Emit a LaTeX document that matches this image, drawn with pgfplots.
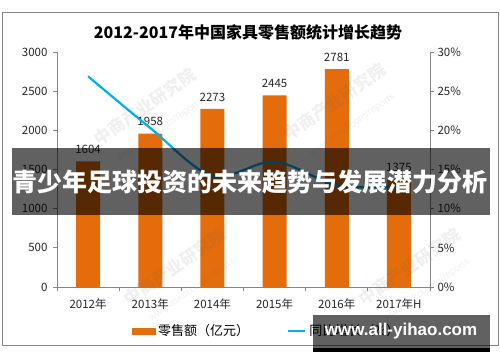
\documentclass[border=0pt]{standalone}
\usepackage{pgfplots}
\pgfplotsset{compat=1.18}
\usepackage{fontspec}
\setmainfont{Noto Sans CJK SC}
\newfontfamily\webfont{Liberation Sans}
\definecolor{barorange}{HTML}{E46C0A}
\definecolor{lineblue}{HTML}{00B0F0}
\definecolor{axgray}{HTML}{868686}
\begin{document}
\begin{tikzpicture}
\path[use as bounding box] (0pt,0pt) rectangle (500pt,362pt);
\draw[axgray, line width=1pt] (2pt,17pt) rectangle (498pt,349pt);
\node[font=\fontsize{16}{18}\selectfont\bfseries] at (248pt,330pt) {2012-2017年中国家具零售额统计增长趋势};
\begin{axis}[
  at={(57pt,75pt)}, anchor=south west, scale only axis,
  width=373pt, height=235pt,
  xmin=-0.5, xmax=5.5, ymin=0, ymax=3000,
  axis x line*=bottom, axis y line*=left,
  axis line style={axgray, line width=0.8pt},
  xtick={0,1,2,3,4,5},
  xticklabels={2012年,2013年,2014年,2015年,2016年,2017年H},
  minor xtick={-0.5,0.5,1.5,2.5,3.5,4.5,5.5},
  x tick style={draw=none},
  minor x tick style={draw=axgray, line width=0.8pt},
  minor tick length=4pt,
  ytick={0,500,1000,1500,2000,2500,3000},
  y tick style={axgray, line width=0.8pt},
  major tick length=4pt,
  tick align=outside,
  /pgf/number format/assume math mode=true,
  /pgf/number format/1000 sep={},
  tick label style={font=\fontsize{11.5}{13}\selectfont, text=black!85},
  yticklabel style={xshift=-2pt},
  xticklabel style={yshift=-4pt},
  ybar, bar width=24pt,
  nodes near coords,
  nodes near coords style={font=\fontsize{11.5}{13}\selectfont, text=black!85, yshift=4pt,
     /pgf/number format/1000 sep={}, /pgf/number format/assume math mode=true},
  clip=false,
]
\addplot[fill=barorange, draw=none] coordinates {(0,1604) (1,1958) (2,2273) (3,2445) (4,2781) (5,1375)};
\end{axis}
\begin{axis}[
  at={(57pt,75pt)}, anchor=south west, scale only axis,
  width=373pt, height=235pt,
  xmin=-0.5, xmax=5.5, ymin=0, ymax=30,
  axis y line*=right, axis x line=none,
  axis line style={axgray, line width=0.8pt},
  ytick={0,5,10,15,20,25,30},
  yticklabel={\pgfmathprintnumber{\tick}\%},
  y tick style={axgray, line width=0.8pt},
  major tick length=4pt,
  tick align=outside,
  /pgf/number format/assume math mode=true,
  tick label style={font=\fontsize{11.5}{13}\selectfont, text=black!85},
  legend columns=2,
  legend style={draw=none, fill=none, at={(0.562,-0.187)}, anchor=center,
     font=\fontsize{13}{15}\selectfont, column sep=1pt,
     /tikz/every even column/.append style={column sep=36pt}},
  legend cell align=left,
]
\addlegendimage{legend image code/.code={\fill[barorange] (0pt,-3pt) rectangle (23pt,3pt);}}
\addlegendentry{零售额（亿元）}
\addplot[lineblue, line width=2.2pt, smooth, tension=0.55] coordinates {(0,26.9) (1,20.3) (2,14.2) (3,16.0) (4,13.0) (5,12.8)};
\addlegendentry{同比增长（\%）}
\end{axis}
% faint watermarks
\begin{scope}[opacity=0.1, text=black!60]
\node[rotate=35, font=\fontsize{17}{19}\selectfont\bfseries] at (145pt,255pt) {中商产业研究院};
\node[rotate=35, font=\webfont\fontsize{10}{12}\selectfont] at (160pt,232pt) {www.askci.com/reports};
\node[rotate=35, font=\fontsize{17}{19}\selectfont\bfseries] at (335pt,260pt) {中商产业研究院};
\node[rotate=35, font=\webfont\fontsize{10}{12}\selectfont] at (352pt,237pt) {www.askci.com/reports};
\node[rotate=35, font=\fontsize{17}{19}\selectfont\bfseries] at (175pt,95pt) {中商产业研究院};
\node[rotate=35, font=\webfont\fontsize{10}{12}\selectfont] at (192pt,72pt) {www.askci.com/reports};
\node[rotate=35, font=\fontsize{17}{19}\selectfont\bfseries] at (410pt,95pt) {中商产业研究院};
\node[rotate=35, font=\webfont\fontsize{10}{12}\selectfont] at (427pt,72pt) {www.askci.com/reports};
\end{scope}
\fill[black, opacity=0.62] (12pt,147pt) rectangle (490pt,214pt);
\node[text=white, font=\fontsize{25}{27}\selectfont\bfseries] at (250pt,180pt) {青少年足球投资的未来趋势与发展潜力分析};
\fill[black, opacity=0.62] (313pt,14pt) rectangle (490pt,47pt);
\fill[black] (313pt,10pt) rectangle (490pt,14pt);
\node[text=white, font=\webfont\fontsize{17}{19}\selectfont\bfseries] at (401pt,31pt) {www.all-yihao.com};
\end{tikzpicture}
\end{document}
